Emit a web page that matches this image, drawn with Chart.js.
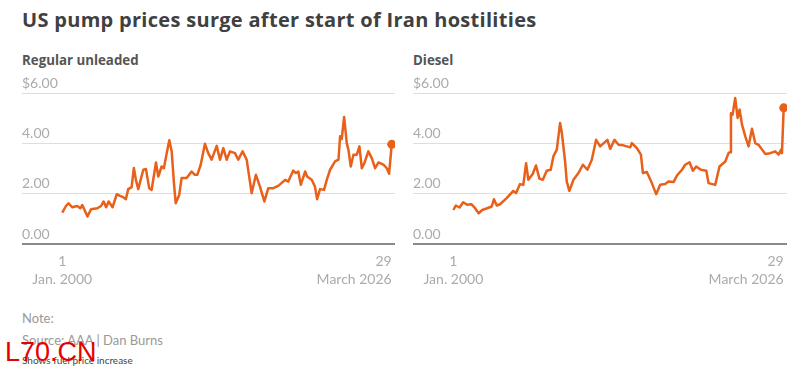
<!DOCTYPE html>
<html>
<head>
<meta charset="utf-8">
<script src="https://cdn.jsdelivr.net/npm/chart.js@4.4.1/dist/chart.umd.min.js"></script>
<style>
  html, body { margin: 0; padding: 0; background: #fff; }
  body { width: 802px; height: 374px; position: relative; overflow: hidden; font-family: Lato, sans-serif; }
  .abs { position: absolute; white-space: nowrap; }
  #title { left: 22px; top: 6px; font-family: "Open Sans", sans-serif; font-size: 20px; letter-spacing: 0.3px; font-weight: 700; color: #404040; }
  .sub { top: 51px; font-family: "Open Sans", sans-serif; font-size: 13.3px; font-weight: 700; color: #555; }
  .note { left: 22px; font-size: 13px; color: #999; }
  #wm { left: 5px; top: 337px; font-family: "Liberation Sans", Arial, sans-serif; font-size: 27px; color: #e60000; }
  canvas { position: absolute; }
</style>
</head>
<body>
<div id="title" class="abs">US pump prices surge after start of Iran hostilities</div>
<div class="abs sub" style="left:22px">Regular unleaded</div>
<div class="abs sub" style="left:413px">Diesel</div>
<canvas id="c1" width="400" height="230" style="left:0;top:70px"></canvas>
<canvas id="c2" width="402" height="230" style="left:400px;top:70px"></canvas>
<div class="abs note" style="top:310px">Note:</div>
<div class="abs note" style="top:332px">Source: AAA | Dan Burns</div>
<div class="abs" style="left:22px;top:354px;font-size:10px;color:#444">Shows fuel price increase</div>
<div id="wm" class="abs">L70.CN</div>
<script>
// ---- data ----
const gasDates = ["2000-01-03","2000-04-20","2000-07-02","2000-10-20","2001-03-14","2001-06-14","2001-08-08","2001-11-25","2002-01-05","2002-04-20","2002-10-20","2003-02-05","2003-04-20","2003-07-02","2003-09-13","2004-01-05","2004-05-08","2004-08-08","2004-11-10","2005-01-26","2005-04-05","2005-07-13","2005-09-16","2005-11-14","2006-01-22","2006-04-01","2006-06-18","2006-09-02","2006-12-06","2007-02-14","2007-06-21","2007-08-26","2007-12-02","2008-02-06","2008-04-28","2008-07-13","2008-09-20","2008-11-25","2009-01-15","2009-04-27","2009-07-05","2009-11-28","2010-04-23","2010-07-27","2010-10-05","2011-01-12","2011-05-15","2011-08-19","2011-11-25","2012-04-20","2012-07-27","2012-10-31","2013-02-06","2013-05-12","2013-10-05","2014-01-08","2014-05-15","2014-09-10","2015-02-01","2015-06-05","2015-10-01","2016-02-06","2016-05-30","2016-10-23","2017-03-17","2017-10-01","2018-01-01","2018-05-27","2018-08-08","2018-10-20","2019-01-01","2019-01-30","2019-05-08","2019-07-02","2019-11-14","2020-02-17","2020-04-20","2020-07-13","2020-11-07","2021-01-26","2021-05-02","2021-09-24","2022-01-01","2022-02-17","2022-04-05","2022-06-14","2022-08-29","2022-10-16","2022-12-24","2023-03-11","2023-06-18","2023-09-02","2023-11-10","2024-01-22","2024-05-19","2024-08-26","2024-12-02","2025-03-08","2025-07-31","2025-11-07","2026-01-12","2026-03-29"];
const gasValues = [1.25,1.51,1.62,1.46,1.51,1.42,1.55,1.22,1.09,1.38,1.42,1.51,1.69,1.46,1.69,1.46,1.98,1.91,1.86,1.78,2.18,2.26,3.02,2.55,2.18,2.55,2.95,2.98,2.22,2.15,3.24,2.68,3.08,3.01,3.61,4.12,3.68,2.42,1.62,1.95,2.62,2.62,2.88,2.75,2.75,3.15,3.98,3.61,3.35,3.90,3.35,3.81,3.35,3.68,3.61,3.35,3.68,3.35,2.02,2.75,2.28,1.69,2.22,2.22,2.31,2.55,2.48,2.92,2.82,2.88,2.35,2.48,2.88,2.68,2.55,2.28,1.78,2.18,2.15,2.55,2.95,3.28,3.35,4.28,4.17,5.05,4.01,3.75,3.08,3.55,3.55,3.88,3.01,3.21,3.68,3.41,3.01,3.24,3.15,3.01,2.79,3.96];

const dieselDates = ["2000-01-03","2000-03-15","2000-07-01","2000-10-15","2001-02-05","2001-06-10","2001-09-10","2002-01-05","2002-04-20","2002-09-10","2003-01-20","2003-03-25","2003-06-15","2003-09-16","2004-03-28","2004-10-08","2004-12-24","2005-04-20","2005-07-24","2005-10-13","2005-12-17","2006-04-23","2006-07-27","2006-11-03","2007-02-10","2007-06-03","2007-09-27","2007-12-13","2008-03-22","2008-06-25","2008-08-15","2008-11-17","2009-01-05","2009-03-22","2009-07-17","2009-12-10","2010-04-17","2010-08-26","2011-01-01","2011-05-05","2011-08-30","2012-03-28","2012-06-18","2012-10-20","2013-02-14","2013-07-05","2014-01-20","2014-03-08","2014-07-31","2014-11-25","2015-01-22","2015-05-15","2015-10-08","2016-02-10","2016-06-06","2016-10-31","2017-02-03","2017-06-28","2017-10-05","2018-02-28","2018-06-03","2018-10-05","2019-01-12","2019-04-16","2019-09-02","2020-02-03","2020-04-09","2020-10-20","2021-02-21","2021-08-08","2021-11-10","2021-12-28","2022-01-19","2022-03-08","2022-05-22","2022-07-31","2022-09-27","2022-12-05","2023-03-11","2023-06-14","2023-09-20","2023-12-24","2024-03-28","2024-07-09","2024-10-12","2025-03-04","2025-07-27","2025-10-31","2026-01-12","2026-02-06","2026-03-29"];
const dieselValues = [1.35,1.53,1.45,1.66,1.56,1.58,1.45,1.22,1.35,1.42,1.49,1.78,1.53,1.58,1.82,2.11,2.02,2.38,2.35,3.21,2.55,2.78,3.12,2.60,2.55,2.91,2.95,3.48,3.75,4.81,4.42,3.28,2.48,2.11,2.55,2.82,3.15,2.95,3.35,4.14,3.88,4.14,3.78,4.14,3.94,3.92,3.84,4.01,3.81,3.55,2.82,2.86,2.42,1.98,2.35,2.38,2.48,2.46,2.72,2.95,3.15,3.25,2.91,3.08,2.95,2.91,2.42,2.35,3.08,3.28,3.61,3.65,5.20,5.14,5.80,5.01,5.34,4.74,4.28,3.88,4.58,4.01,3.94,3.75,3.58,3.61,3.68,3.55,3.75,3.61,5.41];

const yTickValues = [0, 2, 4, 6];
const yTickLabels = ["0.00", "2.00", "4.00", "$6.00"];
const xTickTop = ["1", "29"];
const xTickBottom = ["Jan. 2000", "March 2026"];

// ---- helpers ----
function decYear(s) {
  const [y, m, d] = s.split("-").map(Number);
  const start = Date.UTC(y, 0, 1), end = Date.UTC(y + 1, 0, 1);
  return y + (Date.UTC(y, m - 1, d) - start) / (end - start);
}
const ORANGE = "#e8601a";
const TICK_GREY = "#ababab";

const xLabelPlugin = {
  id: "xLabels",
  afterDraw(chart) {
    const ctx = chart.ctx;
    const xs = chart.scales.x;
    const pts = chart.data.datasets[0].data;
    const x0 = xs.getPixelForValue(pts[0].x);
    const x1 = xs.getPixelForValue(pts[pts.length - 1].x);
    const base = chart.scales.y.getPixelForValue(0);
    ctx.save();
    ctx.fillStyle = TICK_GREY;
    ctx.font = "14px Lato";
    ctx.textBaseline = "middle";
    ctx.textAlign = "center";
    ctx.fillText(xTickTop[0], x0, base + 17);
    ctx.fillText(xTickBottom[0], x0, base + 35);
    ctx.textAlign = "right";
    ctx.fillText(xTickTop[1], x1, base + 17);
    ctx.fillText(xTickBottom[1], x1, base + 35);
    ctx.restore();
  }
};

function makeChart(id, dates, values, padLeft, padRight) {
  const data = dates.map((d, i) => ({ x: decYear(d), y: values[i] }));
  const last = data.length - 1;
  return new Chart(document.getElementById(id), {
    type: "line",
    data: {
      datasets: [{
        data,
        borderColor: ORANGE,
        backgroundColor: ORANGE,
        borderWidth: 2.5,
        tension: 0,
        borderJoinStyle: "round",
        pointRadius: c => (c.dataIndex === last ? 4.5 : 0),
        pointBorderWidth: 0,
        pointHoverRadius: 0
      }]
    },
    options: {
      responsive: false,
      animation: false,
      devicePixelRatio: 1,
      layout: { padding: { left: padLeft, right: padRight, top: 23, bottom: 56 } },
      plugins: { legend: { display: false }, tooltip: { enabled: false } },
      scales: {
        x: { type: "linear", min: 1996.8, max: 2026.5, display: false },
        y: {
          min: 0, max: 6,
          afterFit: s => { s.width = 0; },
          afterBuildTicks: s => { s.ticks = yTickValues.map(v => ({ value: v })); },
          border: { display: false },
          grid: {
            drawTicks: false,
            color: c => (c.tick && c.tick.value === 0 ? "#8a8a8a" : "#dedede"),
            lineWidth: c => (c.tick && c.tick.value === 0 ? 2 : 1)
          },
          ticks: {
            mirror: true,
            padding: 0,
            labelOffset: -10,
            color: TICK_GREY,
            font: { family: "Lato", size: 14 },
            callback: (v) => yTickLabels[yTickValues.indexOf(v)]
          }
        }
      }
    },
    plugins: [xLabelPlugin]
  });
}

makeChart("c1", gasDates, gasValues, 22, 5);
makeChart("c2", dieselDates, dieselValues, 13, 15);
</script>
</body>
</html>
